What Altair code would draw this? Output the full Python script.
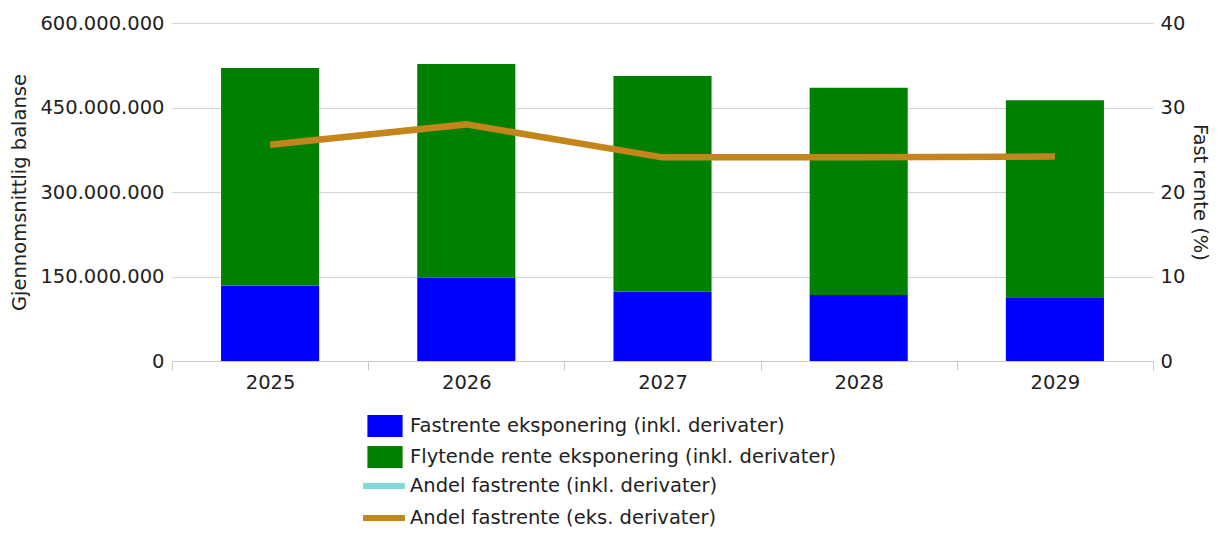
import altair as alt
import pandas as pd

years = ["2025", "2026", "2027", "2028", "2029"]
bar_series = ["Fastrente eksponering (inkl. derivater)", "Flytende rente eksponering (inkl. derivater)"]
line_series = ["Andel fastrente (inkl. derivater)", "Andel fastrente (eks. derivater)"]

fastrente = [134e6, 148e6, 123e6, 117e6, 113e6]
flytende = [386e6, 379e6, 383e6, 368e6, 350e6]
andel_eks = [25.6, 28.0, 24.1, 24.1, 24.2]

y_left_ticks = [0, 150e6, 300e6, 450e6, 600e6]
y_right_ticks = [0, 10, 20, 30, 40]

bar_rows = []
for i, yr in enumerate(years):
    bar_rows.append({"år": yr, "serie": bar_series[0], "verdi": fastrente[i], "rekkefølge": 0})
    bar_rows.append({"år": yr, "serie": bar_series[1], "verdi": flytende[i], "rekkefølge": 1})
bar_df = pd.DataFrame(bar_rows)
line_df = pd.DataFrame({"år": years, "linje": line_series[1], "andel": andel_eks})

FONT = "DejaVu Sans"
FS = 19.5
TXT = "#222222"
GRID = "#d3d3d3"

x_enc = alt.X(
    "år:N",
    scale=alt.Scale(paddingInner=0, paddingOuter=0),
    axis=alt.Axis(
        title=None, labelAngle=0, tickBand="extent", grid=False,
        domainColor="#c8c8c8", tickColor="#c8c8c8", tickSize=9,
        labelFontSize=FS, labelColor=TXT, labelPadding=3, labelFont=FONT,
    ),
)

bars = alt.Chart(bar_df).mark_bar(width=alt.RelativeBandSize(0.5)).encode(
    x=x_enc,
    y=alt.Y(
        "verdi:Q", stack="zero",
        scale=alt.Scale(domain=[0, 600e6], nice=False),
        axis=alt.Axis(
            title="Gjennomsnittlig balanse", values=y_left_ticks,
            labelExpr="replace(format(datum.value, ','), regexp(',', 'g'), '.')",
            domain=False, ticks=False, grid=True, gridColor=GRID,
            labelFontSize=FS, labelColor=TXT, labelPadding=8, labelFont=FONT,
            titleFontSize=FS, titleFontWeight="normal", titleColor=TXT, titleFont=FONT,
            titlePadding=10,
        ),
    ),
    color=alt.Color(
        "serie:N",
        scale=alt.Scale(domain=bar_series, range=["#0000ff", "#008000"]),
        legend=alt.Legend(
            title=None, orient="none", legendX=202, legendY=392, direction="vertical",
            symbolType="M-1.6,-1H1.6V1H-1.6Z", symbolSize=484, symbolStrokeWidth=0,
            labelFontSize=FS, labelColor=TXT, labelFont=FONT, labelLimit=700,
            labelOffset=14, rowPadding=9, padding=0,
        ),
    ),
    order=alt.Order("rekkefølge:Q"),
)

lines = alt.Chart(line_df).mark_line(strokeWidth=6.5, strokeCap="butt").encode(
    x=x_enc,
    y=alt.Y(
        "andel:Q",
        scale=alt.Scale(domain=[0, 40], nice=False),
        axis=alt.Axis(
            title="Fast rente (%)", orient="right", values=y_right_ticks,
            domain=False, ticks=False, grid=False,
            labelFontSize=FS, labelColor=TXT, labelPadding=7, labelFont=FONT,
            titleFontSize=FS, titleFontWeight="normal", titleColor=TXT, titleFont=FONT,
            titlePadding=5,
        ),
    ),
    color=alt.Color(
        "linje:N",
        scale=alt.Scale(domain=line_series, range=["#7fd8da", "#c4851c"]),
        legend=alt.Legend(
            title=None, orient="none", legendX=198, legendY=449, direction="vertical",
            symbolType="M-1.9,0H1.9", symbolSize=484, symbolStrokeWidth=6,
            labelFontSize=FS, labelColor=TXT, labelFont=FONT, labelLimit=700,
            labelOffset=12, rowPadding=6, padding=0,
        ),
    ),
)

chart = alt.layer(bars, lines).resolve_scale(
    y="independent", color="independent"
).properties(
    width=981, height=338,
    autosize=alt.AutoSizeParams(type="none"),
    padding={"left": 164, "top": 15, "right": 59, "bottom": 168},
).configure_view(stroke=None)

chart.save("out.html", embed_options={"renderer": "svg", "actions": False})
